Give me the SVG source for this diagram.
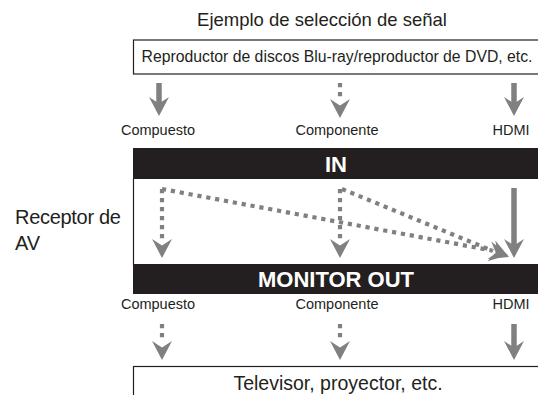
<svg xmlns="http://www.w3.org/2000/svg" xmlns:xlink="http://www.w3.org/1999/xlink" width="538" height="395" viewBox="0 0 538 395">
<style>
text{font-family:"Liberation Sans",Arial,sans-serif;fill:#231f20}
.t{font-size:18.5px}
.box{fill:#fff;stroke:#231f20;stroke-width:1.2}
.bar{fill:#231f20}
.bt{font-size:22px;font-weight:bold;fill:#fff}
.lb{font-size:14.5px}
.sol{stroke:#808083;stroke-width:5.5;fill:none}
.dot{stroke:#808083;stroke-width:4.2;stroke-dasharray:4.2 4.8;fill:none}
.hd{fill:#808083}
</style>
<defs>
<path id="head" d="M0,0 L-10,-19 L0,-12.5 L10,-19 Z"/>
</defs>
<text class="t" x="322" y="26" text-anchor="middle">Ejemplo de selección de señal</text>
<g id="source">
<rect class="box" x="133.5" y="40" width="420" height="34"/>
<text x="337" y="62" font-size="16" text-anchor="middle" textLength="391" lengthAdjust="spacingAndGlyphs">Reproductor de discos Blu-ray/reproductor de DVD, etc.</text>
</g>
<g id="in-labels">
<text class="lb" x="158" y="135" text-anchor="middle">Compuesto</text>
<text class="lb" x="337" y="135" text-anchor="middle">Componente</text>
<text class="lb" x="511" y="135" text-anchor="middle">HDMI</text>
</g>
<g id="receiver">
<line x1="133.5" y1="178" x2="133.5" y2="266" stroke="#231f20" stroke-width="1.2"/>
<rect class="bar" x="133" y="148" width="405" height="31"/>
<text class="bt" x="336" y="172" text-anchor="middle">IN</text>
<rect class="bar" x="133" y="264" width="405" height="30"/>
<text class="bt" x="336" y="287" text-anchor="middle" font-size="21">MONITOR OUT</text>
<text x="15" y="224" font-size="20" letter-spacing="-0.3">Receptor de</text>
<text x="15" y="250" font-size="20">AV</text>
</g>
<g id="out-labels">
<text class="lb" x="158" y="309" text-anchor="middle">Compuesto</text>
<text class="lb" x="337" y="309" text-anchor="middle">Componente</text>
<text class="lb" x="511" y="309" text-anchor="middle">HDMI</text>
</g>
<g id="display">
<rect class="box" x="133.5" y="366.5" width="420" height="40"/>
<text x="338" y="390" font-size="19.5" text-anchor="middle">Televisor, proyector, etc.</text>
</g>
<g id="connectors">
<path class="sol" d="M159,83 V104"/>
<use href="#head" class="hd" x="159" y="116"/>
<path class="dot" d="M340,83 V100"/>
<use href="#head" class="hd" x="340" y="118"/>
<path class="sol" d="M514,83 V104"/>
<use href="#head" class="hd" x="514" y="116"/>

<path class="dot" d="M162,189 V240"/>
<use href="#head" class="hd" x="162" y="258"/>
<path class="dot" d="M340,189 V240"/>
<use href="#head" class="hd" x="340" y="258"/>
<path class="sol" d="M514,188 V246"/>
<use href="#head" class="hd" x="514" y="258"/>
<path class="dot" d="M162,189 L492,250.5"/>
<use href="#head" class="hd" transform="translate(508,255) rotate(-79)"/>
<path class="dot" d="M342,189 L493,251"/>
<use href="#head" class="hd" transform="translate(509,257) rotate(-67.5)"/>

<path class="dot" d="M162,324 V340"/>
<use href="#head" class="hd" x="162" y="360"/>
<path class="dot" d="M340,324 V340"/>
<use href="#head" class="hd" x="340" y="360"/>
<path class="sol" d="M514,324 V348"/>
<use href="#head" class="hd" x="514" y="360"/>
</g>
</svg>
